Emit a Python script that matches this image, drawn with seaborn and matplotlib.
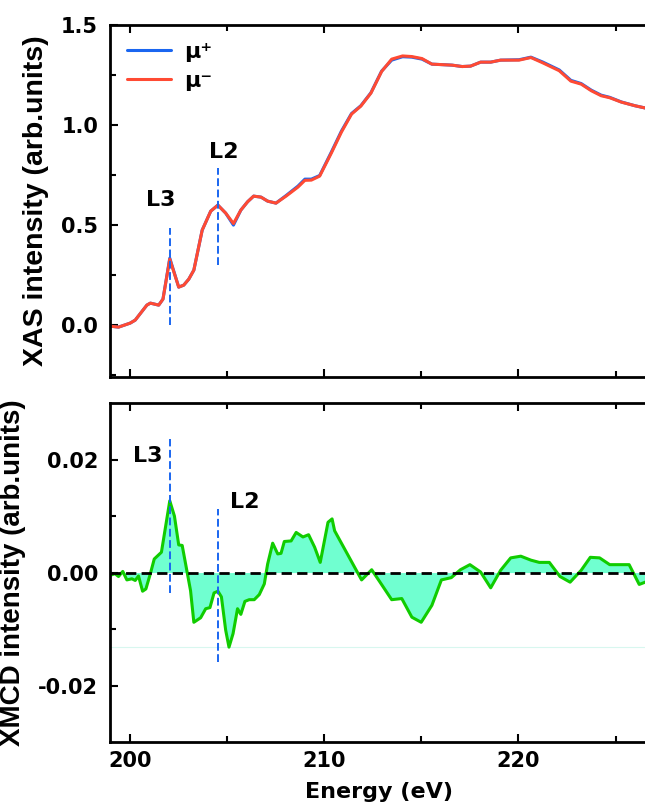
import matplotlib
matplotlib.use("Agg")
import matplotlib.pyplot as plt
import seaborn as sns
import numpy as np
import pandas as pd

sns.set_theme(style="ticks")
plt.rcParams['font.family'] = ['Liberation Sans', 'DejaVu Sans']
plt.rcParams['font.weight'] = 'bold'
plt.rcParams['text.color'] = 'black'
plt.rcParams['axes.labelcolor'] = 'black'
plt.rcParams['xtick.color'] = 'black'
plt.rcParams['ytick.color'] = 'black'
plt.rcParams['xtick.labelcolor'] = 'black'
plt.rcParams['ytick.labelcolor'] = 'black'

# ---- XAS data ----
xas_energy = [198.96, 199.4, 200.0, 200.26, 200.86, 201.04, 201.47, 201.69, 202.04, 202.5,
              202.76, 203.02, 203.28, 203.71, 204.15, 204.52, 204.92, 205.32, 205.7, 206.05,
              206.36, 206.74, 207.08, 207.51, 208.03, 208.64, 209.0, 209.33, 209.76, 210.36,
              210.88, 211.4, 211.88, 212.4, 212.95, 213.47, 214.03, 214.5, 215.03, 215.54,
              216.58, 217.1, 217.53, 218.05, 218.57, 219.08, 220.03, 220.64, 221.24, 222.1,
              222.7, 223.23, 223.75, 224.26, 224.7, 225.3, 226.0, 226.7]
mu_plus = [-0.005, -0.01, 0.01, 0.025, 0.10, 0.11, 0.10, 0.13, 0.335, 0.19,
           0.20, 0.23, 0.275, 0.475, 0.57, 0.60, 0.56, 0.50, 0.575, 0.617,
           0.645, 0.64, 0.62, 0.61, 0.648, 0.695, 0.73, 0.73, 0.748, 0.865,
           0.97, 1.058, 1.097, 1.162, 1.27, 1.325, 1.342, 1.340, 1.330, 1.305,
           1.300, 1.293, 1.295, 1.315, 1.315, 1.325, 1.327, 1.340, 1.316, 1.276,
           1.224, 1.208, 1.175, 1.150, 1.139, 1.116, 1.097, 1.082]
mu_minus = [-0.005, -0.01, 0.01, 0.025, 0.10, 0.11, 0.10, 0.13, 0.33, 0.19,
            0.20, 0.23, 0.275, 0.475, 0.57, 0.60, 0.56, 0.508, 0.575, 0.617,
            0.645, 0.64, 0.62, 0.61, 0.645, 0.69, 0.724, 0.725, 0.745, 0.86,
            0.965, 1.055, 1.095, 1.16, 1.268, 1.330, 1.346, 1.343, 1.333, 1.305,
            1.300, 1.293, 1.295, 1.315, 1.315, 1.325, 1.325, 1.338, 1.312, 1.272,
            1.220, 1.205, 1.172, 1.147, 1.137, 1.115, 1.097, 1.082]

# ---- XMCD data ----
xmcd_energy = [198.96, 199.22, 199.4, 199.62, 199.83, 200.09, 200.26, 200.43, 200.64, 200.81,
               201.04, 201.24, 201.61, 202.04, 202.28, 202.5, 202.68, 203.11, 203.28, 203.63,
               203.89, 204.11, 204.32, 204.52, 204.7, 204.92, 205.09, 205.3, 205.53, 205.7,
               205.91, 206.13, 206.39, 206.65, 206.91, 207.08, 207.34, 207.6, 207.77, 207.94,
               208.29, 208.55, 208.9, 209.19, 209.5, 209.79, 210.19, 210.4, 210.53, 211.92,
               212.44, 212.87, 213.47, 213.99, 214.51, 214.99, 215.54, 216.03, 216.54, 217.01,
               217.5, 218.05, 218.57, 219.08, 219.6, 220.12, 220.64, 221.07, 221.59, 222.14,
               222.66, 223.23, 223.7, 224.18, 224.7, 225.7, 226.22, 226.68]
xmcd = [-0.0005, -0.0002, -0.0007, 0.0002, -0.0013, -0.0011, -0.0014, -0.0006, -0.0033, -0.0029,
        -0.0002, 0.0024, 0.0036, 0.0127, 0.0100, 0.0049, 0.0048, -0.0032, -0.0088, -0.0080,
        -0.0064, -0.0062, -0.0036, -0.0033, -0.0043, -0.0102, -0.0132, -0.0108, -0.0064, -0.0074,
        -0.0051, -0.0048, -0.0048, -0.0039, -0.0020, 0.0015, 0.0052, 0.0033, 0.0034, 0.0055,
        0.0056, 0.0071, 0.0063, 0.0067, 0.0045, 0.0018, 0.0089, 0.0095, 0.0074, -0.0013,
        0.0005, -0.0017, -0.0048, -0.0046, -0.0079, -0.0088, -0.0058, -0.0013, -0.0009, 0.0005,
        0.0014, 0.0001, -0.0027, 0.0004, 0.0026, 0.0029, 0.0022, 0.0018, 0.0018, -0.0007,
        -0.0017, 0.0004, 0.0027, 0.0026, 0.0014, 0.0014, -0.0021, -0.0015]

legend_labels = ['\u03bc\u207a', '\u03bc\u207b']
xas_ylabel = 'XAS intensity (arb.units)'
xmcd_ylabel = 'XMCD intensity (arb.units)'
xlabel = 'Energy (eV)'

blue = '#1a66f0'
red = '#ff4a33'
green = '#11cc00'
fillc = '#70ffd0'
TICKFONT = ['DejaVu Sans']
LABFONT = ['Liberation Sans', 'DejaVu Sans']

fig = plt.figure(figsize=(6.45, 8.11), dpi=100)
ax1 = fig.add_axes([0.1705, 0.535, 0.835, 0.434])
ax2 = fig.add_axes([0.1705, 0.085, 0.835, 0.418])

df_xas = pd.DataFrame({'E': xas_energy, 'plus': mu_plus, 'minus': mu_minus})
sns.lineplot(data=df_xas, x='E', y='plus', ax=ax1, color=blue, lw=2.2, label=legend_labels[0])
sns.lineplot(data=df_xas, x='E', y='minus', ax=ax1, color=red, lw=2.2, label=legend_labels[1])

vdash = (0, (4, 1.8))
ax1.vlines(202.07, 0.0, 0.485, colors=blue, linestyles=vdash, lw=1.4)
ax1.vlines(204.54, 0.30, 0.785, colors=blue, linestyles=vdash, lw=1.4)
ax1.text(201.6, 0.625, 'L3', ha='center', va='center', fontsize=16, fontweight='bold', family=TICKFONT)
ax1.text(204.8, 0.865, 'L2', ha='center', va='center', fontsize=16, fontweight='bold', family=TICKFONT)

leg = ax1.legend(loc='upper left', frameon=False, handlelength=2.0,
                 borderaxespad=0.35, labelspacing=0.4, handletextpad=0.6,
                 prop={'family': TICKFONT, 'weight': 'bold', 'size': 16})
for t in leg.get_texts():
    t.set_color('black')

ax1.set_xlim(198.96, 226.7)
ax1.set_ylim(-0.26, 1.5)
ax1.set_yticks([0.0, 0.5, 1.0, 1.5])
ax1.set_yticks([-0.25, 0.25, 0.75, 1.25], minor=True)
ax1.set_xticks([200, 210, 220])
ax1.set_xticks([205, 215, 225], minor=True)
ax1.set_xticklabels([])
ax1.set_xlabel('')
ax1.set_ylabel(xas_ylabel, fontsize=20.5, fontweight='bold', labelpad=9, family=LABFONT)

df_m = pd.DataFrame({'E': xmcd_energy, 'xmcd': xmcd})
ax2.fill_between(df_m['E'], df_m['xmcd'], 0, color=fillc, lw=0)
sns.lineplot(data=df_m, x='E', y='xmcd', ax=ax2, color=green, lw=2.2)
ax2.axhline(0, color='black', lw=2.0, ls=(0, (3.7, 1.9)), zorder=3)
ax2.axhline(-0.0132, color='#d8f7ef', lw=0.8, zorder=1)
ax2.vlines(202.04, -0.0037, 0.0236, colors=blue, linestyles=vdash, lw=1.4)
ax2.vlines(204.52, -0.0159, 0.0113, colors=blue, linestyles=vdash, lw=1.4)
ax2.text(200.93, 0.0206, 'L3', ha='center', va='center', fontsize=16, fontweight='bold', family=TICKFONT)
ax2.text(205.9, 0.0125, 'L2', ha='center', va='center', fontsize=16, fontweight='bold', family=TICKFONT)

ax2.set_xlim(198.96, 226.7)
ax2.set_ylim(-0.03, 0.03)
ax2.set_yticks([-0.02, 0.0, 0.02])
ax2.set_yticklabels(['-0.02', '0.00', '0.02'])
ax2.set_yticks([-0.01, 0.01], minor=True)
ax2.set_xticks([200, 210, 220])
ax2.set_xticks([205, 215, 225], minor=True)
ax2.set_xlabel(xlabel, fontsize=16, fontweight='bold', labelpad=7.5, family=TICKFONT)
ax2.set_ylabel(xmcd_ylabel, fontsize=20, fontweight='bold', labelpad=9, family=LABFONT)

for ax in (ax1, ax2):
    ax.tick_params(which='both', direction='in', top=True, bottom=True, left=True, right=False,
                   width=1.5, color='black', labelcolor='black')
    ax.tick_params(which='major', length=6, labelsize=15)
    ax.tick_params(axis='x', which='major', pad=6.5)
    ax.tick_params(axis='y', which='major', pad=8.5)
    ax.tick_params(which='minor', length=4)
    for lab in ax.get_xticklabels() + ax.get_yticklabels():
        lab.set_fontweight('bold')
        lab.set_family(TICKFONT)
    for s in ['top', 'bottom', 'left']:
        ax.spines[s].set_linewidth(2)
        ax.spines[s].set_color('black')
    ax.spines['right'].set_visible(False)

fig.savefig('out.png', dpi=100)
